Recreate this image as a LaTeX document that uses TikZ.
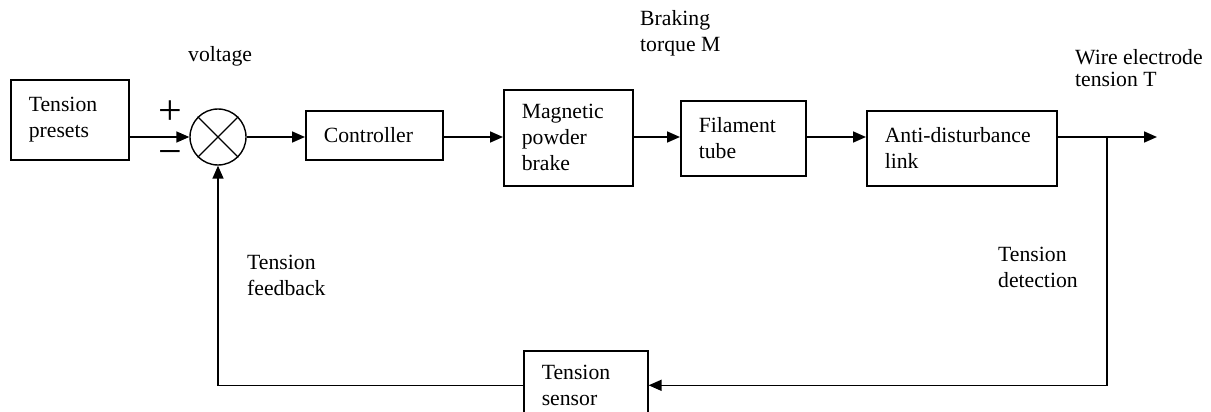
\documentclass[tikz,border=0pt]{standalone}
\usepackage{fontspec}
\setmainfont{Liberation Serif}
\usetikzlibrary{arrows.meta, positioning, calc}

\tikzset{
  blockbox/.style={draw, line width=1.6pt, align=left, inner xsep=18pt, inner ysep=0pt,
    anchor=north west},
  sigline/.style={line width=1.6pt},
  sigarrow/.style={line width=1.6pt, -{Triangle[length=13pt, width=11pt]}},
  freelabel/.style={align=left, inner sep=0pt, anchor=base west}
}

\begin{document}
\begin{tikzpicture}[x=1pt, y=-1pt, font=\fontsize{21.7}{26}\selectfont]
    % 画布
    \clip (0,0) rectangle (1211,412);
    \fill[white] (0,0) rectangle (1211,412);

    % 方框
    \node[blockbox, text width=82pt, minimum height=80pt] (presets) at (10,79) {Tension\\presets};
    \node[blockbox, text width=101pt, minimum height=49pt] (ctrl) at (305,110) {Controller};
    \node[blockbox, text width=93pt, minimum height=96pt] (brake) at (503,89) {Magnetic\\powder\\brake};
    \node[blockbox, text width=89pt, minimum height=75pt] (tube) at (680,100) {Filament\\tube};
    \node[blockbox, text width=154pt, minimum height=75pt] (anti) at (866,110) {Anti-disturbance\\link};
    \node[blockbox, text width=88pt, minimum height=69pt] (sensor) at (523,350) {Tension\\sensor};

    % 比较点
    \node[draw, circle, line width=1.4pt, minimum size=56pt, inner sep=0pt] (sum) at (218,137) {};
    \draw[line width=1.2pt] (sum.45) -- (sum.225) (sum.135) -- (sum.315);
    \node (plus) at (170,113) {\fontsize{42}{42}\selectfont +};
    \node (minus) at (170,158) {\fontsize{42}{42}\selectfont −};

    % 前向通道
    \coordinate (tap) at (1107,137);
    \coordinate (out) at (1157,137);
    \draw[sigarrow] (sum.west -| presets.east) -- (sum.west);
    \draw[sigarrow] (sum.east) -- (sum.east -| ctrl.west);
    \draw[sigarrow] (sum.east -| ctrl.east) -- (sum.east -| brake.west);
    \draw[sigarrow] (sum.east -| brake.east) -- (sum.east -| tube.west);
    \draw[sigarrow] (sum.east -| tube.east) -- (sum.east -| anti.west);
    \draw[sigarrow] (sum.east -| anti.east) -- (out);

    % 反馈通道
    \draw[sigarrow] (tap) |- (sensor.east);
    \draw[sigarrow] (sensor.west) -| (sum.south);

    % 标注 (多行时锚点在末行基线)
    \node[freelabel] (volt) at (188,62) {voltage};
    \node[freelabel] (torque) at (640,52) {Braking\\torque M};
    \node[freelabel, font=\fontsize{21.7}{22}\selectfont] (wire) at (1075,87) {Wire electrode\\tension T};
    \node[freelabel] (fb) at (247,295) {Tension\\feedback};
    \node[freelabel] (det) at (998,287) {Tension\\detection};
\end{tikzpicture}
\end{document}
